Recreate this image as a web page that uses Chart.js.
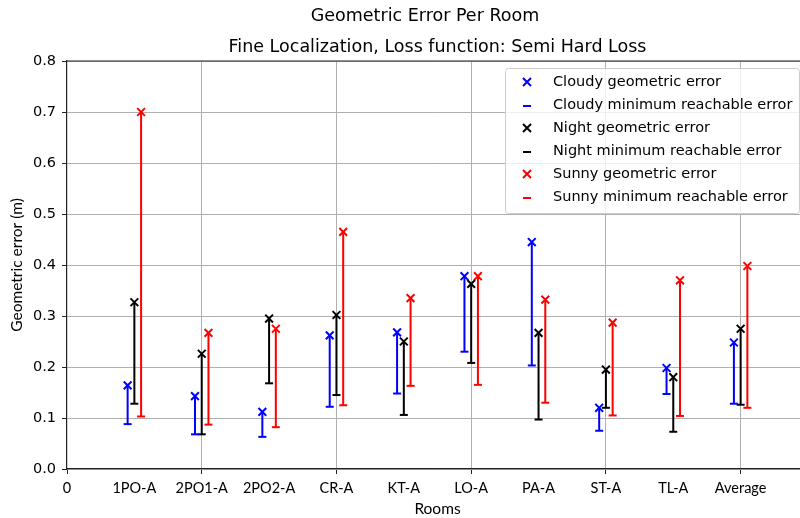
<!DOCTYPE html>
<html>
<head>
<meta charset="utf-8">
<script src="https://cdn.jsdelivr.net/npm/chart.js@4"></script>
<style>
html, body { margin: 0; padding: 0; background: #fff; overflow: hidden; }
#div_c1 { position: relative; width: 850px; height: 518px; }
</style>
</head>
<body>
<div id="div_c1"><canvas id="Chart1"></canvas></div>
<script>
// data
var rooms = ["1PO-A", "2PO1-A", "2PO2-A", "CR-A", "KT-A", "LO-A", "PA-A", "ST-A", "TL-A", "Average"];
var cloudyGeo = [0.164, 0.143, 0.112, 0.262, 0.268, 0.378, 0.445, 0.120, 0.198, 0.248];
var cloudyMin = [0.088, 0.068, 0.063, 0.122, 0.148, 0.230, 0.203, 0.075, 0.147, 0.128];
var nightGeo  = [0.327, 0.226, 0.295, 0.302, 0.250, 0.363, 0.267, 0.195, 0.180, 0.275];
var nightMin  = [0.128, 0.068, 0.168, 0.145, 0.106, 0.208, 0.097, 0.120, 0.073, 0.126];
var sunnyGeo  = [0.700, 0.267, 0.275, 0.465, 0.335, 0.378, 0.332, 0.287, 0.370, 0.398];
var sunnyMin  = [0.103, 0.087, 0.082, 0.125, 0.163, 0.165, 0.130, 0.105, 0.104, 0.120];
var yTicks = [0.0, 0.1, 0.2, 0.3, 0.4, 0.5, 0.6, 0.7, 0.8];
var xTicks = [0, 1, 2, 3, 4, 5, 6, 7, 8, 9, 10, 11];

var series = [
    { name: 'Cloudy', color: '#0000ff', offset: -0.1, geo: cloudyGeo, min: cloudyMin },
    { name: 'Night',  color: '#000000', offset: 0,    geo: nightGeo,  min: nightMin },
    { name: 'Sunny',  color: '#ff0000', offset: 0.1,  geo: sunnyGeo,  min: sunnyMin }
];

var datasets = [];
series.forEach(function (s) {
    var bars = [], geoPts = [], minPts = [];
    for (var i = 0; i < rooms.length; i++) {
        var x = i + 1 + s.offset;
        bars.push({ x: x, y: s.min[i] }, { x: x, y: s.geo[i] }, { x: x, y: null });
        geoPts.push({ x: x, y: s.geo[i] });
        minPts.push({ x: x, y: s.min[i] });
    }
    datasets.push({
        type: 'line', data: bars, borderColor: s.color, borderWidth: 2,
        pointRadius: 0, spanGaps: false, tension: 0
    });
    datasets.push({
        label: s.name + ' geometric error', data: geoPts, showLine: false,
        pointStyle: 'crossRot', pointRadius: 5.5, borderColor: s.color, borderWidth: 2
    });
    datasets.push({
        label: s.name + ' minimum reachable error', data: minPts, showLine: false,
        pointStyle: 'line', pointRadius: 4, borderColor: s.color, borderWidth: 2
    });
});

var framePlugin = {
    id: 'frame',
    afterDatasetsDraw: function (chart) {
        var a = chart.chartArea, ctx = chart.ctx;
        ctx.save();
        ctx.strokeStyle = '#222';
        ctx.lineWidth = 1.2;
        ctx.beginPath();
        ctx.moveTo(a.left, a.top);
        ctx.lineTo(a.right, a.top);
        ctx.stroke();
        ctx.restore();
    }
};

var legendPlugin = {
    id: 'boxLegend',
    afterDraw: function (chart) {
        var a = chart.chartArea, ctx = chart.ctx;
        var w = 294, h = 145;
        var right = a.right - 9, top = a.top + 7, left = right - w;
        ctx.save();
        ctx.fillStyle = 'rgba(255,255,255,0.8)';
        ctx.strokeStyle = '#cccccc';
        ctx.lineWidth = 1;
        ctx.beginPath();
        ctx.roundRect(left + 0.5, top + 0.5, w, h, 3);
        ctx.fill();
        ctx.stroke();
        ctx.font = '14.5px "DejaVu Sans"';
        ctx.textBaseline = 'middle';
        ctx.textAlign = 'left';
        var row = 0;
        series.forEach(function (s) {
            ['geometric error', 'minimum reachable error'].forEach(function (kind, k) {
                var cy = top + 14 + row * 23;
                var mx = left + 22;
                ctx.strokeStyle = s.color;
                ctx.lineWidth = 2;
                ctx.beginPath();
                if (k === 0) {
                    ctx.moveTo(mx - 4, cy - 4); ctx.lineTo(mx + 4, cy + 4);
                    ctx.moveTo(mx - 4, cy + 4); ctx.lineTo(mx + 4, cy - 4);
                } else {
                    ctx.moveTo(mx - 4, cy + 1); ctx.lineTo(mx + 4, cy + 1);
                }
                ctx.stroke();
                ctx.fillStyle = '#000';
                ctx.fillText(s.name + ' ' + kind, left + 48, cy);
                row++;
            });
        });
        ctx.restore();
    }
};

var ctx1 = document.getElementById("Chart1");
var crt1 = new Chart(ctx1, {
    type: 'scatter',
    data: { datasets: datasets },
    plugins: [framePlugin, legendPlugin],
    options: {
        responsive: true,
        maintainAspectRatio: false,
        animation: false,
        events: [],
        layout: { padding: 0 },
        scales: {
            x: {
                type: 'linear', min: 0, max: 11,
                afterBuildTicks: function (scale) {
                    scale.ticks = xTicks.map(function (v) { return { value: v }; });
                },
                afterFit: function (scale) { scale.height = 49; },
                ticks: {
                    autoSkip: false, maxRotation: 0, padding: 6, color: '#000',
                    font: { family: 'Lato', size: 14.5 },
                    callback: function (value) {
                        if (value === 0) return '0';
                        return rooms[value - 1] || '';
                    }
                },
                grid: {
                    color: function (c) {
                        return (c.tick && c.tick.value > 0 && c.tick.value % 2 === 0) ? '#b0b0b0' : 'rgba(0,0,0,0)';
                    },
                    tickColor: function (c) {
                        return (c.tick && c.tick.value % 2 === 0) ? '#222' : 'rgba(0,0,0,0)';
                    },
                    tickLength: 5,
                    lineWidth: 1
                },
                border: { display: true, color: '#222', width: 1.2 },
                title: {
                    display: true, text: 'Rooms', color: '#000',
                    font: { family: 'Lato', size: 15.5 },
                    padding: { top: 0, bottom: 0 }
                }
            },
            y: {
                min: 0, max: 0.8,
                afterBuildTicks: function (scale) {
                    scale.ticks = yTicks.map(function (v) { return { value: v }; });
                },
                afterFit: function (scale) { scale.width = 67; },
                ticks: {
                    padding: 6, color: '#000',
                    font: { family: 'DejaVu Sans', size: 14.5 },
                    callback: function (value) { return value.toFixed(1); }
                },
                grid: { color: '#b0b0b0', tickColor: '#222', tickLength: 5, lineWidth: 1 },
                border: { display: true, color: '#222', width: 1.2 },
                title: {
                    display: true, text: 'Geometric error (m)', color: '#000',
                    font: { family: 'Lato', size: 15.5 },
                    padding: { top: 8, bottom: 0 }
                }
            },
            // empty spacer on the right: the axes box ends before the figure edge
            yRight: {
                position: 'right', display: true,
                afterFit: function (scale) { scale.width = 42; },
                ticks: { display: false },
                grid: { display: false },
                border: { display: false }
            }
        },
        plugins: {
            legend: { display: false },
            tooltip: { enabled: false },
            title: {
                display: true, text: 'Geometric Error Per Room', color: '#000',
                font: { family: 'DejaVu Sans', size: 17.5, weight: 'normal' },
                padding: { top: 5.5, bottom: 10 }
            },
            subtitle: {
                display: true, fullSize: false, text: 'Fine Localization, Loss function: Semi Hard Loss', color: '#000',
                font: { family: 'DejaVu Sans', size: 17.5, weight: 'normal' },
                padding: { top: 0, bottom: 3.5 }
            }
        }
    }
});
</script>
</body>
</html>
